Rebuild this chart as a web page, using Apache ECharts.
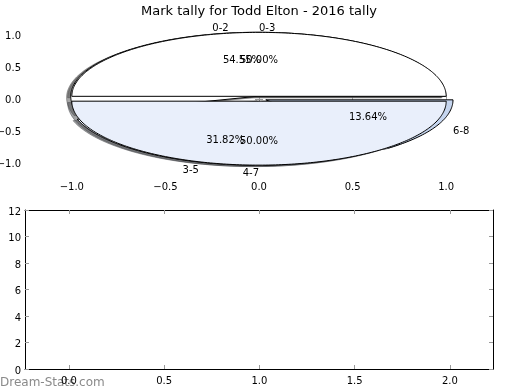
<!DOCTYPE html>
<html>
<head>
<meta charset="utf-8">
<script src="https://cdn.jsdelivr.net/npm/echarts@6/dist/echarts.min.js"></script>
<style>html,body{margin:0;padding:0;background:#fff;}#c{width:520px;height:390px;}</style>
</head>
<body>
<div id="c"></div>
<script>
const pie1Labels = ['0-2', '3-5', '6-8'];
const pie1Values = [12, 7, 3];
const pie2Labels = ['0-3', '4-7'];
const pie2Values = [11, 11];
const topXTicks = [-1, -0.5, 0, 0.5, 1];
const topYTicks = [-1, -0.5, 0, 0.5, 1];
const bottomXTicks = [0, 0.5, 1, 1.5, 2];
const bottomYTicks = [0, 2, 4, 6, 8, 10, 12];
const titleText = 'Mark tally for Todd Elton - 2016 tally';
const watermarkText = 'Dream-Stats.com';

const pie1Colors = ['#ffffff', '#e9effb', '#c5d5ef'];
const pie2Colors = ['#ffffff', '#e9effb'];
const FONT = 'DejaVu Sans';
const TEXT_DY = 2;

function buildWedges(values, labels, colors, explode) {
  const total = values.reduce((a, b) => a + b, 0);
  let a = 0;
  return values.map((v, i) => {
    const t1 = a, t2 = a + 360 * v / total;
    a = t2;
    const mid = (t1 + t2) / 2 * Math.PI / 180;
    return {
      t1, t2, mid,
      cx: explode * Math.cos(mid), cy: explode * Math.sin(mid),
      color: colors[i], label: labels[i],
      pct: (100 * v / total).toFixed(2) + '%'
    };
  });
}
const wedges1 = buildWedges(pie1Values, pie1Labels, pie1Colors, 0.04);
const wedges2 = buildWedges(pie2Values, pie2Labels, pie2Colors, 0.038);
const allWedges = wedges1.concat(wedges2);

function hexRgb(h) {
  return [parseInt(h.slice(1, 3), 16), parseInt(h.slice(3, 5), 16), parseInt(h.slice(5, 7), 16)];
}

function wedgePoints(api, w, ox, oy) {
  const pts = [api.coord([w.cx + ox, w.cy + oy])];
  const step = 1;
  for (let t = w.t1; t < w.t2; t += step) {
    const r = t * Math.PI / 180;
    pts.push(api.coord([w.cx + ox + Math.cos(r), w.cy + oy + Math.sin(r)]));
  }
  const r2 = w.t2 * Math.PI / 180;
  pts.push(api.coord([w.cx + ox + Math.cos(r2), w.cy + oy + Math.sin(r2)]));
  return pts;
}

function wedgeSeries(list, z, shadow) {
  return {
    type: 'custom',
    coordinateSystem: 'cartesian2d',
    xAxisIndex: 0, yAxisIndex: 0,
    z: z,
    silent: true,
    data: list.map(w => [w.cx, w.cy]),
    renderItem: function (params, api) {
      const w = list[params.dataIndex];
      if (shadow) {
        const c = hexRgb(w.color).map(v => Math.round(v * 0.3));
        const col = 'rgba(' + c.join(',') + ',0.5)';
        return {
          type: 'polygon',
          shape: { points: wedgePoints(api, w, -0.0222, -0.0222) },
          style: { fill: col, stroke: col, lineWidth: 1 }
        };
      }
      return {
        type: 'polygon',
        shape: { points: wedgePoints(api, w, 0, 0) },
        style: { fill: w.color, stroke: '#000', lineWidth: 1 }
      };
    }
  };
}

const labelItems = [];
[wedges1, wedges2].forEach(list => {
  list.forEach(w => {
    const c = Math.cos(w.mid), s = Math.sin(w.mid);
    labelItems.push({ x: w.cx + 1.1 * c, y: w.cy + 1.1 * s, text: w.label, align: c > 0 ? 'left' : 'right' });
    labelItems.push({ x: w.cx + 0.6 * c, y: w.cy + 0.6 * s, text: w.pct, align: 'center' });
  });
});

const labelSeries = {
  type: 'custom',
  coordinateSystem: 'cartesian2d',
  xAxisIndex: 0, yAxisIndex: 0,
  z: 10,
  silent: true,
  data: labelItems.map(l => [l.x, l.y]),
  renderItem: function (params, api) {
    const l = labelItems[params.dataIndex];
    const p = api.coord([l.x, l.y]);
    return {
      type: 'text',
      x: p[0], y: p[1] + TEXT_DY,
      style: { text: l.text, fill: '#000', font: '10px "' + FONT + '"', align: l.align, verticalAlign: 'middle' }
    };
  }
};

const fmt = v => (v < 0 ? '\u2212' : '') + Math.abs(v).toFixed(1);
const tickStyle = { show: true, inside: true, length: 4, lineStyle: { color: '#999', width: 1 } };
const labelFont = { color: '#000', fontSize: 10, fontFamily: FONT };

function labelOpts(isX) {
  return isX ? { margin: 7 } : { margin: 4, verticalAlign: 'top', lineHeight: 2 * TEXT_DY };
}

function topAxis(pos, ticks, min, max, showLabel, isX) {
  return {
    type: 'value', gridIndex: 0, position: pos, min: min, max: max,
    axisLine: { show: false },
    axisTick: Object.assign({ customValues: ticks }, tickStyle),
    axisLabel: Object.assign({ show: showLabel, customValues: ticks, formatter: fmt, hideOverlap: false }, labelOpts(isX), labelFont),
    splitLine: { show: false }
  };
}
function bottomAxis(pos, ticks, min, max, showLabel, isX) {
  return {
    type: 'value', gridIndex: 1, position: pos, min: min, max: max,
    axisLine: { show: true, onZero: false, lineStyle: { color: '#000', width: 1 } },
    axisTick: Object.assign({ customValues: ticks }, tickStyle),
    axisLabel: Object.assign({
      show: showLabel, customValues: ticks,
      formatter: isX ? (v => v.toFixed(1)) : (v => String(v)), hideOverlap: false
    }, labelOpts(isX), labelFont),
    splitLine: { show: false }
  };
}

const chart = echarts.init(document.getElementById('c'), null, { renderer: 'canvas' });
chart.setOption({
  animation: false,
  backgroundColor: '#fff',
  grid: [
    { left: 25, width: 468, top: 22, height: 153.5, outerBoundsMode: 'none', containLabel: false },
    { left: 25, width: 468, top: 210, height: 159, outerBoundsMode: 'none', containLabel: false }
  ],
  xAxis: [
    topAxis('bottom', topXTicks, -1.25, 1.25, true, true),
    topAxis('top', topXTicks, -1.25, 1.25, false, true),
    bottomAxis('bottom', bottomXTicks, -0.23, 2.226, true, true),
    bottomAxis('top', bottomXTicks, -0.23, 2.226, false, true)
  ],
  yAxis: [
    topAxis('left', topYTicks, -1.2, 1.2, true, false),
    topAxis('right', topYTicks, -1.2, 1.2, false, false),
    bottomAxis('left', bottomYTicks, 0, 12, true, false),
    bottomAxis('right', bottomYTicks, 0, 12, false, false)
  ],
  graphic: [
    {
      type: 'text', x: 259, y: 12, z: 100,
      style: { text: titleText, fill: '#000', font: '13px "' + FONT + '"', align: 'center', verticalAlign: 'middle' }
    },
    {
      type: 'text', x: 0, y: 383, z: -1,
      style: { text: watermarkText, fill: '#8a8a8a', font: '12px "' + FONT + '"', align: 'left', verticalAlign: 'middle' }
    }
  ],
  series: [
    wedgeSeries(allWedges, 1, true),
    wedgeSeries(wedges1, 2, false),
    wedgeSeries(wedges2, 3, false),
    labelSeries
  ]
});
</script>
</body>
</html>
